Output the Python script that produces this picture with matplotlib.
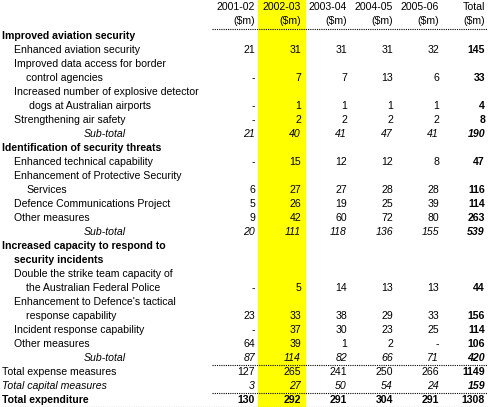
import matplotlib.pyplot as plt

years = ['2001-02', '2002-03', '2003-04', '2004-05', '2005-06', 'Total']

# label, indent level, style ('head', 'item', 'sub', 'total', 'cap', 'grand')
rows = [
    ('Improved aviation security', 0, 'head'),
    ('Enhanced aviation security', 1, 'item'),
    ('Improved data access for border', 1, 'item'),
    ('control agencies', 2, 'item'),
    ('Increased number of explosive detector', 1, 'item'),
    ('dogs at Australian airports', 2, 'item'),
    ('Strengthening air safety', 1, 'item'),
    ('Sub-total', 3, 'sub'),
    ('Identification of security threats', 0, 'head'),
    ('Enhanced technical capability', 1, 'item'),
    ('Enhancement of Protective Security', 1, 'item'),
    ('Services', 2, 'item'),
    ('Defence Communications Project', 1, 'item'),
    ('Other measures', 1, 'item'),
    ('Sub-total', 3, 'sub'),
    ('Increased capacity to respond to', 0, 'head'),
    ('security incidents', 1, 'head'),
    ('Double the strike team capacity of', 1, 'item'),
    ('the Australian Federal Police', 2, 'item'),
    ("Enhancement to Defence's tactical", 1, 'item'),
    ('response capability', 2, 'item'),
    ('Incident response capability', 1, 'item'),
    ('Other measures', 1, 'item'),
    ('Sub-total', 3, 'sub'),
    ('Total expense measures', 0, 'total'),
    ('Total capital measures', 0, 'cap'),
    ('Total expenditure', 0, 'grand'),
]

y2001 = ['', '21', '', '-', '', '-', '-', '21', '', '-', '', '6', '5', '9', '20', '', '', '', '-', '', '23', '-', '64', '87', '127', '3', '130']
y2002 = ['', '31', '', '7', '', '1', '2', '40', '', '15', '', '27', '26', '42', '111', '', '', '', '5', '', '33', '37', '39', '114', '265', '27', '292']
y2003 = ['', '31', '', '7', '', '1', '2', '41', '', '12', '', '27', '19', '60', '118', '', '', '', '14', '', '38', '30', '1', '82', '241', '50', '291']
y2004 = ['', '31', '', '13', '', '1', '2', '47', '', '12', '', '28', '25', '72', '136', '', '', '', '13', '', '29', '23', '2', '66', '250', '54', '304']
y2005 = ['', '32', '', '6', '', '1', '2', '41', '', '8', '', '28', '39', '80', '155', '', '', '', '13', '', '33', '25', '-', '71', '266', '24', '291']
total = ['', '145', '', '33', '', '4', '8', '190', '', '47', '', '116', '114', '263', '539', '', '', '', '44', '', '156', '114', '106', '420', '1149', '159', '1308']
columns = [y2001, y2002, y2003, y2004, y2005, total]

W, H = 489, 407
fig = plt.figure(figsize=(W / 100, H / 100), dpi=100)
ax = fig.add_axes([0, 0, 1, 1])
ax.set_xlim(0, W)
ax.set_ylim(H, 0)
ax.axis('off')
plt.rcParams['font.family'] = 'Liberation Sans'
fs = 7.6

col_right = [255, 301, 347, 393, 439, 485]
ax.axvspan(258, 305, color='#ffff00', zorder=0)

for x, yr in zip(col_right, years):
    ax.text(x, 7, yr, ha='right', va='center', fontsize=fs)
    ax.text(x, 21, '($m)', ha='right', va='center', fontsize=fs)

dot = dict(color='black', lw=0.8, linestyle=(0, (1, 1)))
ax.plot([212, W], [28.5, 28.5], **dot)
ax.plot([212, W], [365, 365], **dot)
ax.plot([212, W], [393, 393], **dot)
ax.plot([0, W], [406.5, 406.5], **dot)

indent_x = [2, 14, 26, 84]
for i, (label, lvl, style) in enumerate(rows):
    y = 36 + 14 * i
    weight = 'bold' if style in ('head', 'grand') else 'normal'
    italic = 'italic' if style in ('sub', 'cap') else 'normal'
    if style == 'head' and lvl == 1:
        lx = 14
    else:
        lx = indent_x[lvl]
    if label.startswith('dogs'):
        lx = 29
    ax.text(lx, y, label, ha='left', va='center', fontsize=fs,
            fontweight=weight, style=italic)
    for j, (x, col) in enumerate(zip(col_right, columns)):
        v = col[i]
        if not v:
            continue
        w = 'bold' if (j == 5 or style == 'grand') else 'normal'
        ax.text(x, y, v, ha='right', va='center', fontsize=fs,
                fontweight=w, style=italic)

fig.savefig('out.png', dpi=100)
